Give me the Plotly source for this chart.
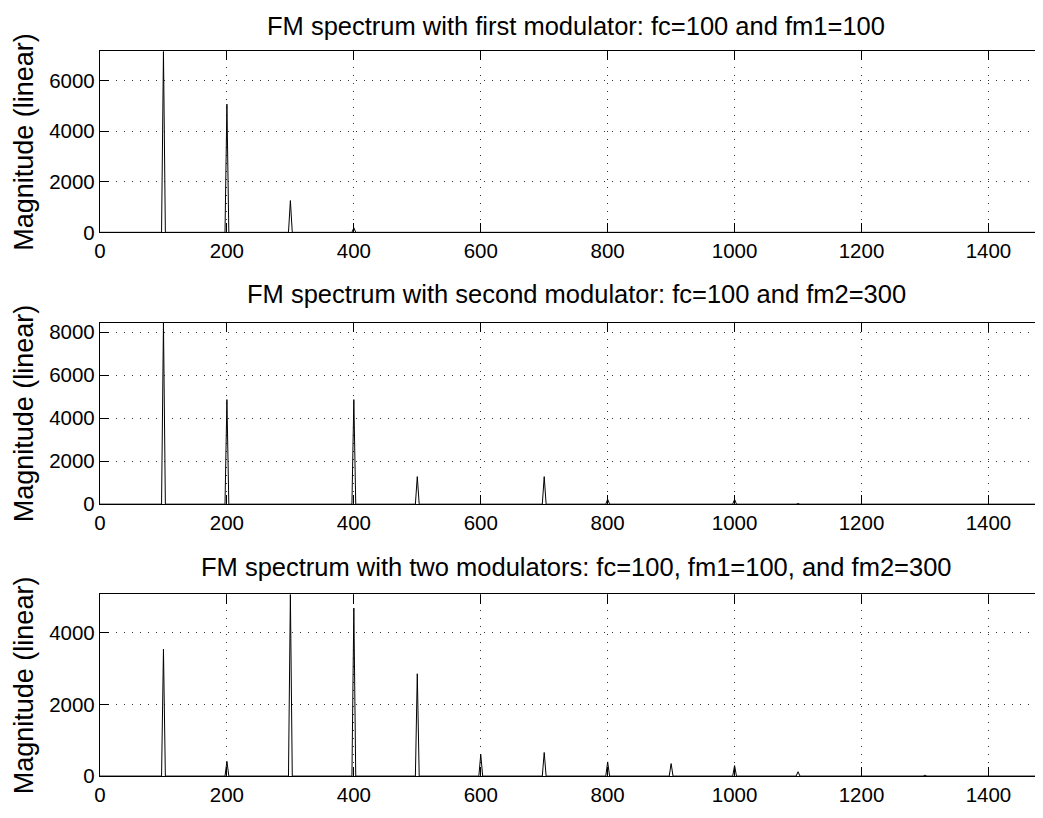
import plotly.graph_objects as go

# ---- data ----
peak_freqs1 = [100, 200, 300, 400, 500]
peak_mags1 = [7146, 5060, 1254, 180, 15]

peak_freqs2 = [100, 200, 400, 500, 700, 800, 1000, 1100, 1300]
peak_mags2 = [8449, 4865, 4865, 1281, 1281, 230, 220, 30, 30]

peak_freqs3 = [100, 200, 300, 400, 500, 600, 700, 800, 900, 1000, 1100, 1300]
peak_mags3 = [3544, 412, 5074, 4690, 2857, 604, 659, 395, 349, 294, 121, 25]

titles = [
    "FM spectrum with first modulator: fc=100 and fm1=100",
    "FM spectrum with second modulator: fc=100 and fm2=300",
    "FM spectrum with two modulators: fc=100, fm1=100, and fm2=300",
]
y_label = "Magnitude (linear)"
x_ticks = [0, 200, 400, 600, 800, 1000, 1200, 1400]
y_ticks = [[0, 2000, 4000, 6000], [0, 2000, 4000, 6000, 8000], [0, 2000, 4000]]
x_max = 1486
f_max = 1500
half_width = 3  # half base width of each spectral line (Hz)


def spectrum_line(freqs, mags):
    xs, ys = [0], [0]
    for f, m in zip(freqs, mags):
        xs += [f - half_width, f, f + half_width]
        ys += [0, m, 0]
    xs.append(f_max)
    ys.append(0)
    return xs, ys


OFF = 8  # page body margin in the browser
W, H = 1043 - OFF, 818 - 2 * OFF
L = 100 - OFF
# axis pixel extents in the reference (top, bottom)
axes_px = [(50, 234), (325.7, 510.3), (602, 786.7)]
title_px = [24.5, 296.5, 574]
font = "Liberation Sans, Arial, Helvetica, sans-serif"

fig = go.Figure()
data = [(peak_freqs1, peak_mags1), (peak_freqs2, peak_mags2), (peak_freqs3, peak_mags3)]
annotations = []
for i, (fr, mg) in enumerate(data):
    xs, ys = spectrum_line(fr, mg)
    ax = "" if i == 0 else str(i + 1)
    fig.add_trace(go.Scatter(x=xs, y=ys, mode="lines",
                             line=dict(color="black", width=1),
                             xaxis="x" + ax, yaxis="y" + ax, showlegend=False,
                             hoverinfo="skip"))
    top, bot = axes_px[i]
    top -= OFF
    bot -= OFF
    dom = [1 - bot / H, 1 - top / H]
    axis_common = dict(
        showline=True, linecolor="black", linewidth=1.3,
        ticks="inside", ticklen=9, tickwidth=1, tickcolor="black",
        showgrid=True, gridcolor="#333", gridwidth=1, griddash="1px,7px",
        zeroline=False,
        tickfont=dict(family=font, size=20.5, color="black"),
    )
    fig.update_layout(**{
        "xaxis" + ax: dict(axis_common, domain=[0, 1], range=[0, x_max],
                           tickvals=x_ticks, mirror="ticks",
                           anchor="y" + ax),
        "yaxis" + ax: dict(axis_common, domain=dom, range=[0, max(mg)],
                           tickvals=y_ticks[i], mirror=False,
                           anchor="x" + ax),
    })
    annotations.append(dict(
        text=titles[i], xref="paper", yref="paper",
        x=(576 - OFF - L) / (W - L), y=1 - (title_px[i] - OFF) / H,
        xanchor="center", yanchor="middle", showarrow=False,
        font=dict(family=font, size=25.5, color="black")))
    annotations.append(dict(
        text=y_label, xref="paper", yref="paper", textangle=-90,
        x=(24 - OFF - L) / (W - L), y=1 - (top + bot) / 2 / H,
        xanchor="center", yanchor="middle", showarrow=False,
        font=dict(family=font, size=27, color="black")))

fig.update_layout(
    width=W, height=H,
    margin=dict(l=L, r=0, t=0, b=0),
    paper_bgcolor="white", plot_bgcolor="white",
    annotations=annotations,
)

fig.write_html("out.html")
